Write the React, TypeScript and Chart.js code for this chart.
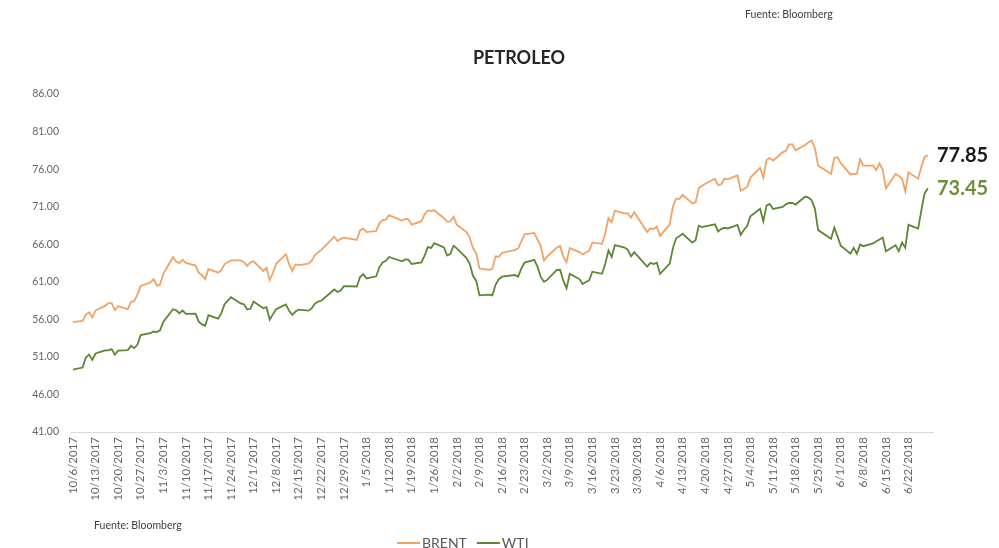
import React, { useEffect, useRef } from 'react';
import { Chart, registerables } from 'chart.js';

Chart.register(...registerables);

const TITLE = 'PETROLEO';
const SOURCE = 'Fuente: Bloomberg';
const START_DATE = '10/6/2017';

const dates: string[] = [
  '10/6/2017', '10/9/2017', '10/10/2017', '10/11/2017', '10/12/2017', '10/13/2017', '10/16/2017', '10/17/2017', '10/18/2017', '10/19/2017', '10/20/2017', '10/23/2017', '10/24/2017', '10/25/2017', '10/26/2017', '10/27/2017', '10/30/2017', '10/31/2017',
  '11/1/2017', '11/2/2017', '11/3/2017', '11/6/2017', '11/7/2017', '11/8/2017', '11/9/2017', '11/10/2017', '11/13/2017', '11/14/2017', '11/15/2017', '11/16/2017', '11/17/2017', '11/20/2017', '11/21/2017', '11/22/2017', '11/24/2017', '11/27/2017', '11/28/2017', '11/29/2017', '11/30/2017',
  '12/1/2017', '12/4/2017', '12/5/2017', '12/6/2017', '12/7/2017', '12/8/2017', '12/11/2017', '12/12/2017', '12/13/2017', '12/14/2017', '12/15/2017', '12/18/2017', '12/19/2017', '12/20/2017', '12/21/2017', '12/22/2017', '12/26/2017', '12/27/2017', '12/28/2017', '12/29/2017',
  '1/2/2018', '1/3/2018', '1/4/2018', '1/5/2018', '1/8/2018', '1/9/2018', '1/10/2018', '1/11/2018', '1/12/2018', '1/16/2018', '1/17/2018', '1/18/2018', '1/19/2018', '1/22/2018', '1/23/2018', '1/24/2018', '1/25/2018', '1/26/2018', '1/29/2018', '1/30/2018', '1/31/2018',
  '2/1/2018', '2/2/2018', '2/5/2018', '2/6/2018', '2/7/2018', '2/8/2018', '2/9/2018', '2/12/2018', '2/13/2018', '2/14/2018', '2/15/2018', '2/16/2018', '2/20/2018', '2/21/2018', '2/22/2018', '2/23/2018', '2/26/2018', '2/27/2018', '2/28/2018',
  '3/1/2018', '3/2/2018', '3/5/2018', '3/6/2018', '3/7/2018', '3/8/2018', '3/9/2018', '3/12/2018', '3/13/2018', '3/14/2018', '3/15/2018', '3/16/2018', '3/19/2018', '3/20/2018', '3/21/2018', '3/22/2018', '3/23/2018', '3/26/2018', '3/27/2018', '3/28/2018', '3/29/2018',
  '4/2/2018', '4/3/2018', '4/4/2018', '4/5/2018', '4/6/2018', '4/9/2018', '4/10/2018', '4/11/2018', '4/12/2018', '4/13/2018', '4/16/2018', '4/17/2018', '4/18/2018', '4/19/2018', '4/20/2018', '4/23/2018', '4/24/2018', '4/25/2018', '4/26/2018', '4/27/2018', '4/30/2018',
  '5/1/2018', '5/2/2018', '5/3/2018', '5/4/2018', '5/7/2018', '5/8/2018', '5/9/2018', '5/10/2018', '5/11/2018', '5/14/2018', '5/15/2018', '5/16/2018', '5/17/2018', '5/18/2018', '5/21/2018', '5/22/2018', '5/23/2018', '5/24/2018', '5/25/2018', '5/29/2018', '5/30/2018', '5/31/2018',
  '6/1/2018', '6/4/2018', '6/5/2018', '6/6/2018', '6/7/2018', '6/8/2018', '6/11/2018', '6/12/2018', '6/13/2018', '6/14/2018', '6/15/2018', '6/18/2018', '6/19/2018', '6/20/2018', '6/21/2018', '6/22/2018', '6/25/2018', '6/26/2018', '6/27/2018', '6/28/2018',
];

const brent: number[] = [
  55.62, 55.79, 56.61, 56.94, 56.25, 57.17, 57.82, 58.15, 58.15, 57.24, 57.75, 57.37, 58.33, 58.44, 59.30, 60.44, 60.90, 61.37,
  60.49, 60.62, 62.07, 64.27, 63.69, 63.49, 63.93, 63.52, 63.16, 62.21, 61.87, 61.36, 62.72, 62.22, 62.57, 63.32, 63.86, 63.84, 63.61, 63.11, 63.57,
  63.73, 62.45, 62.86, 61.22, 62.20, 63.40, 64.69, 63.34, 62.44, 63.31, 63.23, 63.42, 63.80, 64.56, 64.90, 65.25, 67.02, 66.44, 66.72, 66.87,
  66.57, 67.84, 68.07, 67.62, 67.78, 68.82, 69.20, 69.26, 69.87, 69.15, 69.37, 69.31, 68.61, 69.03, 69.96, 70.53, 70.42, 70.52, 69.46, 69.02, 69.05,
  69.65, 68.58, 67.62, 66.86, 65.51, 64.81, 62.79, 62.59, 62.72, 64.36, 64.33, 64.84, 65.25, 65.42, 66.39, 67.31, 67.50, 66.63, 65.78,
  63.83, 64.37, 65.54, 65.79, 64.34, 63.61, 65.49, 64.95, 64.64, 64.89, 65.12, 66.21, 66.05, 67.42, 69.47, 68.91, 70.45, 70.12, 70.11, 69.53, 70.27,
  67.64, 68.12, 68.02, 68.33, 67.11, 68.65, 71.04, 72.06, 72.02, 72.58, 71.42, 71.58, 73.48, 73.78, 74.06, 74.71, 73.86, 74.00, 74.74, 74.64, 75.17,
  73.13, 73.36, 73.62, 74.87, 76.17, 74.85, 77.21, 77.47, 77.12, 78.23, 78.43, 79.28, 79.30, 78.51, 79.22, 79.57, 79.80, 78.79, 76.44, 75.39, 77.50, 77.59,
  76.79, 75.29, 75.38, 75.36, 77.32, 76.46, 76.46, 75.88, 76.74, 75.94, 73.44, 75.34, 75.08, 74.74, 73.05, 75.55, 74.73, 76.31, 77.62, 77.85,
];

const wti: number[] = [
  49.29, 49.58, 50.92, 51.30, 50.60, 51.45, 51.87, 51.88, 52.04, 51.29, 51.84, 51.90, 52.47, 52.18, 52.64, 53.90, 54.15, 54.38,
  54.30, 54.54, 55.64, 57.35, 57.20, 56.81, 57.17, 56.74, 56.76, 55.70, 55.33, 55.14, 56.55, 56.09, 56.83, 58.02, 58.95, 58.11, 57.99, 57.30, 57.40,
  58.36, 57.47, 57.62, 55.96, 56.69, 57.36, 57.99, 57.14, 56.60, 57.04, 57.30, 57.16, 57.46, 58.09, 58.36, 58.47, 59.97, 59.64, 59.84, 60.42,
  60.37, 61.63, 62.01, 61.44, 61.73, 62.96, 63.57, 63.80, 64.30, 63.73, 63.97, 63.95, 63.37, 63.57, 64.47, 65.61, 65.51, 66.14, 65.56, 64.50, 64.73,
  65.80, 65.45, 64.15, 63.39, 61.79, 61.15, 59.20, 59.29, 59.19, 60.60, 61.34, 61.68, 61.90, 61.68, 62.77, 63.55, 63.91, 63.01, 61.64,
  60.99, 61.25, 62.57, 62.60, 61.15, 60.12, 62.04, 61.36, 60.71, 60.96, 61.19, 62.34, 62.06, 63.40, 65.17, 64.30, 65.88, 65.55, 65.25, 64.38, 64.94,
  63.01, 63.51, 63.37, 63.54, 62.06, 63.42, 65.51, 66.82, 67.07, 67.39, 66.22, 66.52, 68.47, 68.29, 68.38, 68.64, 67.70, 68.05, 68.19, 68.10, 68.57,
  67.25, 67.93, 68.43, 69.72, 70.73, 69.06, 71.14, 71.36, 70.70, 70.96, 71.31, 71.49, 71.49, 71.28, 72.35, 72.20, 71.84, 70.71, 67.88, 66.73, 68.21, 67.04,
  65.81, 64.75, 65.52, 64.73, 65.95, 65.74, 66.10, 66.36, 66.64, 66.89, 65.06, 65.85, 65.07, 66.22, 65.54, 68.58, 68.08, 70.53, 72.76, 73.45,
];

const Y_MIN = 41;
const Y_MAX = 86;
const Y_STEP = 5;
const TICK_EVERY_DAYS = 7;

const BRENT_COLOR = '#F2A264';
const WTI_COLOR = '#5C8733';
const WTI_TEXT = '#6E8E3E';
const TEXT_GRAY = '#666666';
const FONT = 'Lato, "Open Sans", "Liberation Sans", sans-serif';

const DAY_MS = 86400000;
function toUTC(s: string): number {
  const [m, d, y] = s.split('/').map(Number);
  return Date.UTC(y, m - 1, d);
}
const startMs = toUTC(START_DATE);
function dayOffset(s: string): number {
  return Math.round((toUTC(s) - startMs) / DAY_MS);
}
function offsetToLabel(v: number): string {
  const dt = new Date(startMs + v * DAY_MS);
  return `${dt.getUTCMonth() + 1}/${dt.getUTCDate()}/${dt.getUTCFullYear()}`;
}

export default function App() {
  const ref = useRef<HTMLCanvasElement | null>(null);

  useEffect(() => {
    if (!ref.current) return;
    const lastDay = dayOffset(dates[dates.length - 1]);

    const overlay = {
      id: 'overlay',
      beforeDraw(chart: any) {
        const c = chart.ctx;
        c.save();
        c.fillStyle = '#ffffff';
        c.fillRect(0, 0, chart.width, chart.height);
        c.restore();
      },
      afterDraw(chart: any) {
        const c = chart.ctx;
        const area = chart.chartArea;
        const ys = chart.scales.y;
        c.save();
        c.fillStyle = '#262626';
        c.font = `bold 18px ${FONT}`;
        c.textAlign = 'center';
        c.textBaseline = 'middle';
        c.fillText(TITLE, 519, 58);
        c.fillStyle = '#404040';
        c.font = `10.5px ${FONT}`;
        c.textAlign = 'left';
        c.fillText(SOURCE, 745, 15);
        c.fillText(SOURCE, 94, 526);
        const ds = chart.data.datasets;
        const endColors = ['#1a1a1a', WTI_TEXT];
        c.font = `bold 20px ${FONT}`;
        ds.forEach((d: any, i: number) => {
          const last = d.data[d.data.length - 1];
          c.fillStyle = endColors[i];
          c.fillText(last.y.toFixed(2), area.right + 4, ys.getPixelForValue(last.y));
        });
        c.font = `14px ${FONT}`;
        const ly = 543;
        let lx = 397;
        ds.forEach((d: any) => {
          c.strokeStyle = d.borderColor;
          c.lineWidth = 2;
          c.beginPath();
          c.moveTo(lx, ly);
          c.lineTo(lx + 23, ly);
          c.stroke();
          c.fillStyle = '#595959';
          c.fillText(d.label, lx + 25, ly);
          lx += 25 + c.measureText(d.label).width + 10;
        });
        c.restore();
      },
    };

    const chart = new Chart(ref.current, {
      type: 'line',
      data: {
        datasets: [
          {
            label: 'BRENT',
            data: dates.map((d, i) => ({ x: dayOffset(d), y: brent[i] })),
            borderColor: BRENT_COLOR,
            backgroundColor: BRENT_COLOR,
            borderWidth: 1.8,
            pointRadius: 0,
            tension: 0,
          },
          {
            label: 'WTI',
            data: dates.map((d, i) => ({ x: dayOffset(d), y: wti[i] })),
            borderColor: WTI_COLOR,
            backgroundColor: WTI_COLOR,
            borderWidth: 1.8,
            pointRadius: 0,
            tension: 0,
          },
        ],
      },
      options: {
        animation: false,
        responsive: false,
        layout: { padding: { top: 94, right: 66, bottom: 41, left: 0 } },
        plugins: {
          legend: { display: false },
          tooltip: { enabled: false },
          title: { display: false },
        },
        scales: {
          x: {
            type: 'linear',
            min: -0.6,
            max: lastDay + 1.6,
            grid: { display: false, drawTicks: false },
            border: { display: true, color: '#D9D9D9', width: 1 },
            afterBuildTicks: (scale: any) => {
              const t: any[] = [];
              for (let v = 0; v <= lastDay; v += TICK_EVERY_DAYS) t.push({ value: v });
              scale.ticks = t;
            },
            afterFit: (scale: any) => {
              scale.height = 75;
            },
            ticks: {
              autoSkip: false,
              maxRotation: 90,
              minRotation: 90,
              padding: 5,
              color: TEXT_GRAY,
              font: { family: FONT, size: 11.5 },
              callback: (v: any) => offsetToLabel(Number(v)),
            },
          },
          y: {
            min: Y_MIN,
            max: Y_MAX,
            grid: { display: false, drawTicks: false },
            border: { display: false },
            afterFit: (scale: any) => {
              scale.width = 71;
            },
            ticks: {
              stepSize: Y_STEP,
              padding: 12,
              color: TEXT_GRAY,
              font: { family: FONT, size: 10.5 },
              callback: (v: any) => Number(v).toFixed(2),
            },
          },
        },
      },
      plugins: [overlay],
    } as any);

    return () => chart.destroy();
  }, []);

  return (
    <div style={{ position: 'fixed', left: 0, top: 0, width: 999, height: 548, background: '#fff' }}>
      <canvas ref={ref} width={999} height={548} style={{ display: 'block' }} />
    </div>
  );
}
